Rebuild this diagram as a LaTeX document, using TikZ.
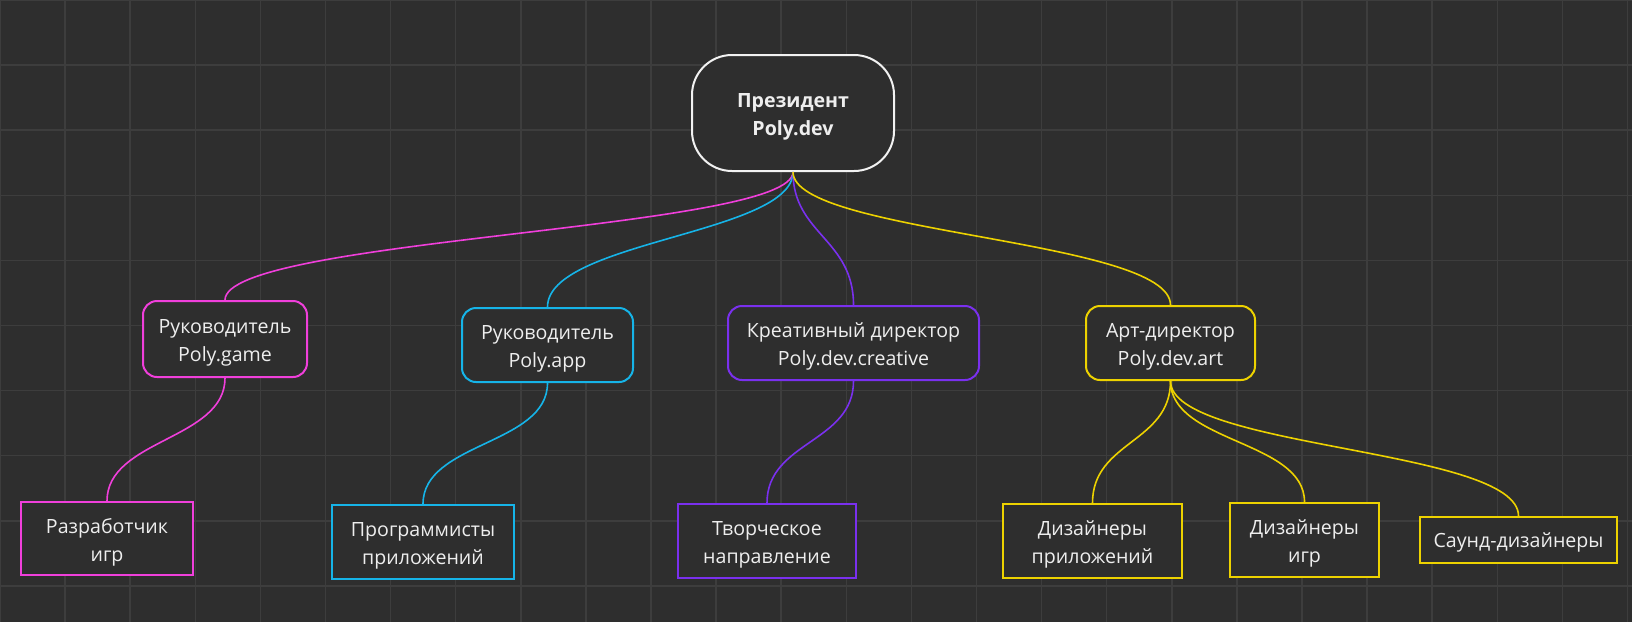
\documentclass[tikz,border=0pt]{standalone}
\usepackage{fontspec}
\setmainfont{Open Sans}
\definecolor{bgc}{HTML}{2E2E2E}
\definecolor{gridc}{HTML}{3D3D3D}
\definecolor{txtc}{HTML}{EEEEEE}
\definecolor{pinkc}{HTML}{F03FDB}
\definecolor{cyanc}{HTML}{16B4E8}
\definecolor{purplec}{HTML}{7A30EE}
\definecolor{yellowc}{HTML}{EDD200}
\definecolor{whitec}{HTML}{F2F2F2}
\tikzset{
  lbl/.style={inner sep=0pt, align=center, text=txtc, yshift=-3.5pt,
    font=\fontsize{19.6}{28}\selectfont},
  box/.style={draw, line width=2pt, inner sep=0pt, fill=bgc},
  rbox/.style={box, rounded corners=14pt},
  conn/.style={line width=1.6pt},
}
\begin{document}
\begin{tikzpicture}[x=1pt,y=-1pt]
\fill[bgc] (0,0) rectangle (1632,622);
\useasboundingbox (0,0) rectangle (1632,622);
\foreach \i in {0,...,25} {
  \draw[gridc, line width=1.5pt] ({\i*65.1},0) -- ({\i*65.1},622);
}
\foreach \j in {0,...,9} {
  \draw[gridc, line width=1.5pt] (0,{\j*65.1}) -- (1632,{\j*65.1});
}
% nodes
\node[box, draw=whitec, rounded corners=40pt, minimum width=202pt, minimum height=116pt,
  label={[lbl, font=\fontsize{19.6}{28}\selectfont\bfseries]center:{Президент\\Poly.dev}}] (pres) at (793,113) {};
\node[rbox, draw=pinkc, minimum width=164pt, minimum height=76pt,
  label={[lbl]center:{Руководитель\\Poly.game}}] (game) at (225,339) {};
\node[rbox, draw=cyanc, minimum width=171pt, minimum height=74pt,
  label={[lbl]center:{Руководитель\\Poly.app}}] (app) at (547.5,345) {};
\node[rbox, draw=purplec, minimum width=251pt, minimum height=74pt,
  label={[lbl]center:{Креативный директор\\Poly.dev.creative}}] (crea) at (853.5,343) {};
\node[rbox, draw=yellowc, minimum width=169pt, minimum height=74pt,
  label={[lbl]center:{Арт-директор\\Poly.dev.art}}] (art) at (1170.5,343) {};
\node[box, draw=pinkc, minimum width=172pt, minimum height=73pt,
  label={[lbl]center:{Разработчик\\игр}}] (dev) at (107,538.5) {};
\node[box, draw=cyanc, minimum width=182pt, minimum height=74pt,
  label={[lbl]center:{Программисты\\приложений}}] (prog) at (423,542) {};
\node[box, draw=purplec, minimum width=178pt, minimum height=74pt,
  label={[lbl]center:{Творческое\\направление}}] (tvor) at (767,541) {};
\node[box, draw=yellowc, minimum width=179pt, minimum height=74pt,
  label={[lbl]center:{Дизайнеры\\приложений}}] (dapp) at (1092.5,541) {};
\node[box, draw=yellowc, minimum width=149pt, minimum height=74pt,
  label={[lbl]center:{Дизайнеры\\игр}}] (dgame) at (1304.5,540) {};
\node[box, draw=yellowc, minimum width=197pt, minimum height=46pt,
  label={[lbl, yshift=1pt]center:{Саунд-дизайнеры}}] (sound) at (1518.5,540) {};
% connectors
\draw[conn, pinkc] (pres.south) .. controls +(0,58) and +(0,-62) .. (game.north);
\draw[conn, cyanc] (pres.south) .. controls +(0,62) and +(0,-66) .. (app.north);
\draw[conn, purplec] (pres.south) .. controls +(0,62) and +(0,-66) .. (crea.north);
\draw[conn, yellowc] (pres.south) .. controls +(0,62) and +(0,-66) .. (art.north);
\draw[conn, pinkc] (game.south) .. controls +(0,62) and +(0,-62) .. (dev.north);
\draw[conn, cyanc] (app.south) .. controls +(0,62) and +(0,-62) .. (prog.north);
\draw[conn, purplec] (crea.south) .. controls +(0,62) and +(0,-62) .. (tvor.north);
\draw[conn, yellowc] (art.south) .. controls +(0,62) and +(0,-62) .. (dapp.north);
\draw[conn, yellowc] (art.south) .. controls +(0,62) and +(0,-62) .. (dgame.north);
\draw[conn, yellowc] (art.south) .. controls +(0,68) and +(0,-68) .. (sound.north);
\end{tikzpicture}
\end{document}
